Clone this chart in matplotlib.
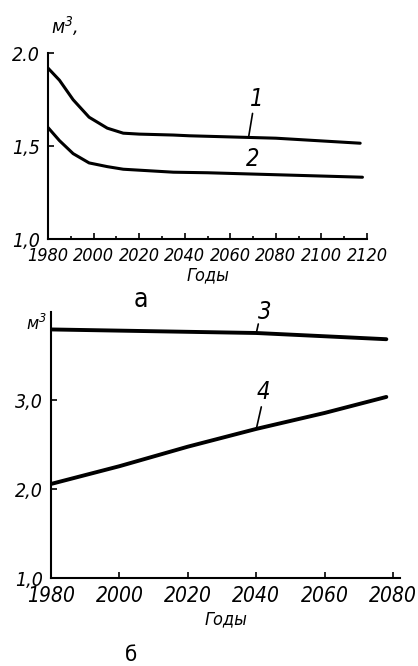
"""
Динамика удельных объёмов (м³) по годам: панели а и б
Output: out.png
"""

import matplotlib.pyplot as plt
import numpy as np
from matplotlib import font_manager
from matplotlib.ticker import MultipleLocator, FixedLocator

# --- data ---
years_1 = [1980, 1985, 1991, 1998, 2006, 2013, 2020, 2035, 2042, 2080, 2117]
vol_1 = [1.92, 1.855, 1.75, 1.656, 1.597, 1.57, 1.565, 1.56, 1.556, 1.543, 1.516]

years_2 = [1980, 1985, 1991, 1998, 2006, 2013, 2035, 2050, 2118]
vol_2 = [1.60, 1.53, 1.46, 1.41, 1.39, 1.376, 1.36, 1.357, 1.333]

years_3 = [1980, 2040, 2078]
vol_3 = [3.80, 3.76, 3.69]

years_4 = [1980, 2000, 2020, 2040, 2060, 2078]
vol_4 = [2.06, 2.26, 2.48, 2.68, 2.86, 3.04]

ticks_a = [1980, 2000, 2020, 2040, 2060, 2080, 2100, 2120]
yticks_a = [1.0, 1.5, 2.0]
ylabels_a = ['1,0', '1,5', '2.0']

ticks_b = [1980, 2000, 2020, 2040, 2060, 2080]
yticks_b = [1.0, 2.0, 3.0]
ylabels_b = ['1,0', '2,0', '3,0']

# look for a narrow face, the original lettering is condensed
narrow = [f for f in font_manager.fontManager.ttflist
          if 'Narrow' in f.name or 'Condensed' in f.name
          or f.stretch in ('condensed', 'semi-condensed', 'extra-condensed')]
if narrow:
    FONT = narrow[0].name
    plt.rcParams['font.stretch'] = narrow[0].stretch
    TOP_SIZE, BOT_SIZE = 13, 15
else:
    FONT = 'DejaVu Sans'
    TOP_SIZE, BOT_SIZE = 9.5, 13
plt.rcParams['font.family'] = [FONT, 'DejaVu Sans']
plt.rcParams['font.style'] = 'italic'
plt.rcParams['mathtext.default'] = 'it'


def style_axes(ax):
    for side in ('top', 'right'):
        ax.spines[side].set_visible(False)
    for side in ('left', 'bottom'):
        ax.spines[side].set_linewidth(1.5)
    ax.tick_params(direction='in', length=4, width=1.2, pad=6)
    ax.tick_params(which='minor', direction='in', length=2, width=1.2)


def leader(ax, x, xs, ys, dx, dy):
    y = np.interp(x, xs, ys)
    ax.annotate('', xy=(x, y), xytext=(dx, dy), textcoords='offset pixels',
                arrowprops=dict(arrowstyle='-', lw=1.2, color='black',
                                shrinkA=0, shrinkB=0))


def label(ax, text, x, xs, ys, dx, dy, size=17):
    y = np.interp(x, xs, ys)
    ax.annotate(text, xy=(x, y), xytext=(dx, dy), textcoords='offset pixels',
                ha='center', va='center', fontsize=size)


fig = plt.figure(figsize=(4.18, 6.66), dpi=100)

# Panel a
ax1 = fig.add_axes([0.115, 0.641, 0.763, 0.279])
ax1.plot(years_1, vol_1, color='black', lw=2.2, solid_capstyle='round')
ax1.plot(years_2, vol_2, color='black', lw=2.2, solid_capstyle='round')
ax1.set_xlim(1980, 2120)
ax1.set_ylim(1.0, 2.0)
style_axes(ax1)
ax1.xaxis.set_major_locator(FixedLocator(ticks_a))
ax1.xaxis.set_minor_locator(MultipleLocator(10))
ax1.set_xticklabels([str(t) for t in ticks_a], fontsize=TOP_SIZE)
ax1.set_yticks(yticks_a)
ax1.set_yticklabels(ylabels_a, fontsize=14)
ax1.set_xlabel('Годы', fontsize=13, labelpad=1)
ax1.text(0.01, 1.08, 'м$^{3}$,', transform=ax1.transAxes, fontsize=14,
         ha='left', va='bottom')
ax1.text(0.29, -0.26, 'а', transform=ax1.transAxes, fontsize=19,
         style='normal', ha='center', va='top')

leader(ax1, 2068, years_1, vol_1, 4, 24)
label(ax1, '1', 2068, years_1, vol_1, 8, 38)
label(ax1, '2', 2070, years_2, vol_2, 0, 15)

# Panel b
ax2 = fig.add_axes([0.122, 0.132, 0.835, 0.400])
ax2.plot(years_3, vol_3, color='black', lw=2.8, solid_capstyle='round')
ax2.plot(years_4, vol_4, color='black', lw=2.8, solid_capstyle='round')
ax2.set_xlim(1980, 2082)
ax2.set_ylim(1.0, 4.0)
style_axes(ax2)
ax2.set_xticks(ticks_b)
ax2.set_xticklabels([str(t) for t in ticks_b], fontsize=BOT_SIZE)
ax2.set_yticks(yticks_b)
ax2.set_yticklabels(ylabels_b, fontsize=14)
ax2.set_xlabel('Годы', fontsize=13, labelpad=3)
ax2.text(-0.012, 0.955, 'м$^{3}$', transform=ax2.transAxes, fontsize=13,
         ha='right', va='center')
ax2.text(0.23, -0.25, 'б', transform=ax2.transAxes, fontsize=16,
         style='normal', ha='center', va='top')

leader(ax2, 2040, years_3, vol_3, 2, 9)
label(ax2, '3', 2041, years_3, vol_3, 5, 21)
leader(ax2, 2040, years_4, vol_4, 5, 22)
label(ax2, '4', 2040, years_4, vol_4, 7, 37)

fig.savefig('out.png', dpi=100)
